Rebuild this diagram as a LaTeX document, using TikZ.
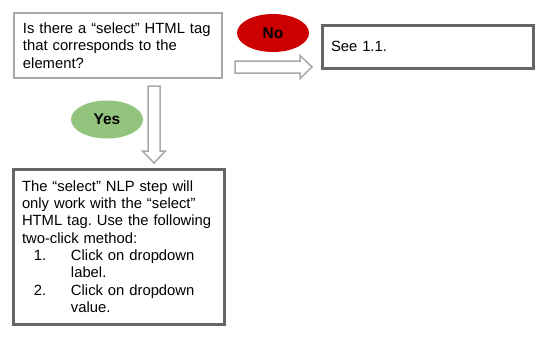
\documentclass[tikz,border=0pt]{standalone}
\usepackage{fontspec}
\setmainfont{Liberation Sans}
\usetikzlibrary{calc, shapes.geometric}
\definecolor{noRed}{HTML}{CC0000}
\definecolor{yesGreen}{HTML}{93C47D}
\definecolor{lightEdge}{HTML}{A8A8A8}
\definecolor{darkEdge}{HTML}{666666}
\frenchspacing

\begin{document}
\begin{tikzpicture}[x=1pt,y=-1pt,box/.style={draw=lightEdge, line width=1.5pt, fill=white, align=left, inner xsep=9pt, inner ysep=0pt, font=\fontsize{14.8}{17.3}\selectfont},heavy/.style={box, draw=darkEdge, line width=3pt},answer/.style={ellipse, minimum width=72pt, minimum height=38pt, inner sep=0pt, font=\fontsize{15.5}{17.3}\selectfont\bfseries},hollow/.style={draw=lightEdge, line width=1.5pt, fill=white, line join=miter}]
\useasboundingbox (0,0) rectangle (547,338);
\node[box, minimum width=208pt, minimum height=65pt, text width=190pt] (q) at (118,45.5) {Is there a “select” HTML tag\\that corresponds to the\\element?};
\node[heavy, minimum width=211pt, minimum height=43pt, text width=193pt] (see) at (427.5,46.5) {See 1.1.};
\node[heavy, minimum width=211pt, minimum height=155pt, text width=193pt] (step) at (118.5,246.5) {The “select” NLP step will\\only work with the “select”\\HTML tag. Use the following\\two-click method:\\\hspace*{12pt}\makebox[37pt][l]{1.}Click on dropdown\\\hspace*{49pt}label.\\\hspace*{12pt}\makebox[37pt][l]{2.}Click on dropdown\\\hspace*{49pt}value.};
\node[answer, fill=noRed] (no) at (273,33) {No};
\node[answer, fill=yesGreen] (yes) at (107,119.5) {Yes};
\coordinate (noTail) at (235,67);\coordinate (noTip) at (312,67);
\coordinate (yesTail) at (154,86);\coordinate (yesTip) at (154,163);
\draw[hollow] ([yshift=-6pt]noTail) -- ([xshift=-12pt,yshift=-6pt]noTip) -- ([xshift=-12pt,yshift=-11.5pt]noTip) -- (noTip) -- ([xshift=-12pt,yshift=11.5pt]noTip) -- ([xshift=-12pt,yshift=6pt]noTip) -- ([yshift=6pt]noTail) -- cycle;
\draw[hollow] ([xshift=-6pt]yesTail) -- ([xshift=-6pt,yshift=12pt]yesTip) -- ([xshift=-11.5pt,yshift=12pt]yesTip) -- (yesTip) -- ([xshift=11.5pt,yshift=12pt]yesTip) -- ([xshift=6pt,yshift=12pt]yesTip) -- ([xshift=6pt]yesTail) -- cycle;
\end{tikzpicture}
\end{document}
